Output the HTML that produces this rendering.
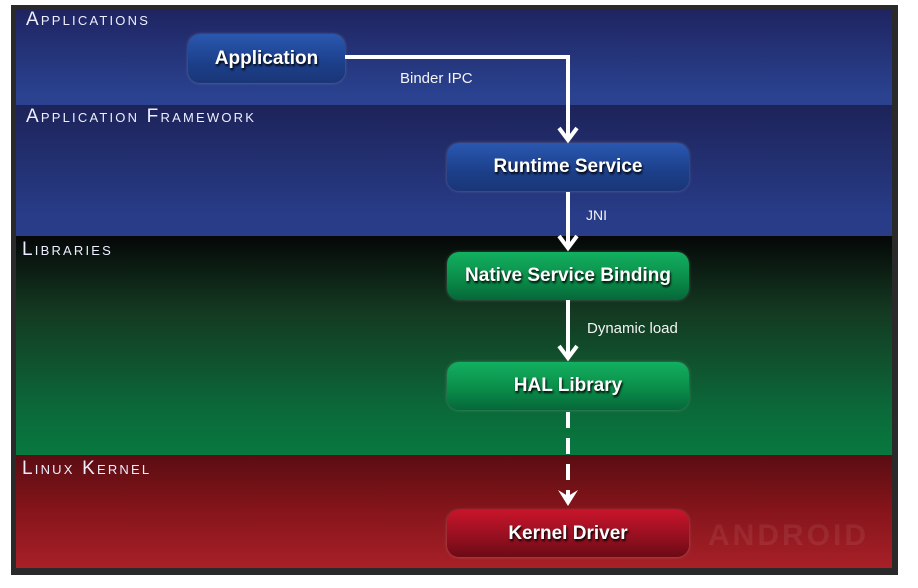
<!DOCTYPE html>
<html><head><style>
body{margin:0;width:918px;height:588px;background:#fff;position:relative;overflow:hidden;font-family:"Liberation Sans",sans-serif}
.frame{position:absolute;left:11px;top:5px;width:887px;height:570px;background:#2b2a2a}
.band{position:absolute;left:16px;width:876px;overflow:hidden}
.lbl{position:absolute;left:10px;color:#eef;font-size:19px;letter-spacing:2.2px;font-variant:small-caps}
.box{position:absolute;border-radius:12px;color:#fff;font-size:19px;font-weight:bold;text-align:center;text-shadow:1px 2px 2px #000;box-shadow:0 0 3px rgba(255,255,255,.25)}
.blue{background:linear-gradient(#2a58b0,#1c3f8a 60%,#1a3677)}
.green{background:linear-gradient(#12b060,#0a8a47 60%,#06673a)}
.red{background:linear-gradient(#c8142a,#921020 60%,#6c0a14)}
.t{position:absolute;color:#f4f4f4;font-size:15px}
</style></head><body>
<div class="frame"></div>
<div class="band" style="top:9px;height:96px;background:linear-gradient(#1f2460,#2a4290 90%)"><div class="lbl" style="top:0px">Applications</div></div>
<div class="band" style="top:105px;height:131px;background:linear-gradient(#1d2359,#283c88 85%)"><div class="lbl" style="top:1px">Application Framework</div></div>
<div class="band" style="top:236px;height:219px;background:linear-gradient(#050707,#143a22 35%,#0b6a3a 80%,#07783f)"><div class="lbl" style="top:3px;left:6px">Libraries</div></div>
<div class="band" style="top:455px;height:113px;background:linear-gradient(#5a0d12,#86151b 50%,#a82028)"><div class="lbl" style="top:3px;left:6px">Linux Kernel</div>
<div style="position:absolute;left:692px;top:64px;color:rgba(255,255,255,.07);font-size:30px;font-weight:bold;letter-spacing:3px">ANDROID</div></div>

<div class="box blue" style="left:188px;top:34px;width:157px;height:49px;line-height:49px">Application</div>
<div class="box blue" style="left:447px;top:143px;width:242px;height:48px;line-height:48px">Runtime Service</div>
<div class="box green" style="left:447px;top:252px;width:242px;height:48px;line-height:48px">Native Service Binding</div>
<div class="box green" style="left:447px;top:362px;width:242px;height:48px;line-height:48px">HAL Library</div>
<div class="box red" style="left:447px;top:510px;width:242px;height:47px;line-height:47px">Kernel Driver</div>

<svg width="918" height="588" style="position:absolute;left:0;top:0">
<g stroke="#fff" stroke-width="4" fill="none">
<polyline points="345,57 568,57 568,140"/>
<polyline points="559,128 568,140 577,128"/>
<line x1="568" y1="192" x2="568" y2="248"/>
<polyline points="559,236 568,248 577,236"/>
<line x1="568" y1="300" x2="568" y2="358"/>
<polyline points="559,346 568,358 577,346"/>
<line x1="568" y1="412" x2="568" y2="496" stroke-dasharray="16,10"/>
</g>
<polygon points="558,490 568,506 578,490 568,496" fill="#fff"/>
</svg>
<div class="t" style="left:400px;top:70px">Binder IPC</div>
<div class="t" style="left:586px;top:207px;font-size:14px">JNI</div>
<div class="t" style="left:587px;top:320px">Dynamic load</div>
</body></html>
